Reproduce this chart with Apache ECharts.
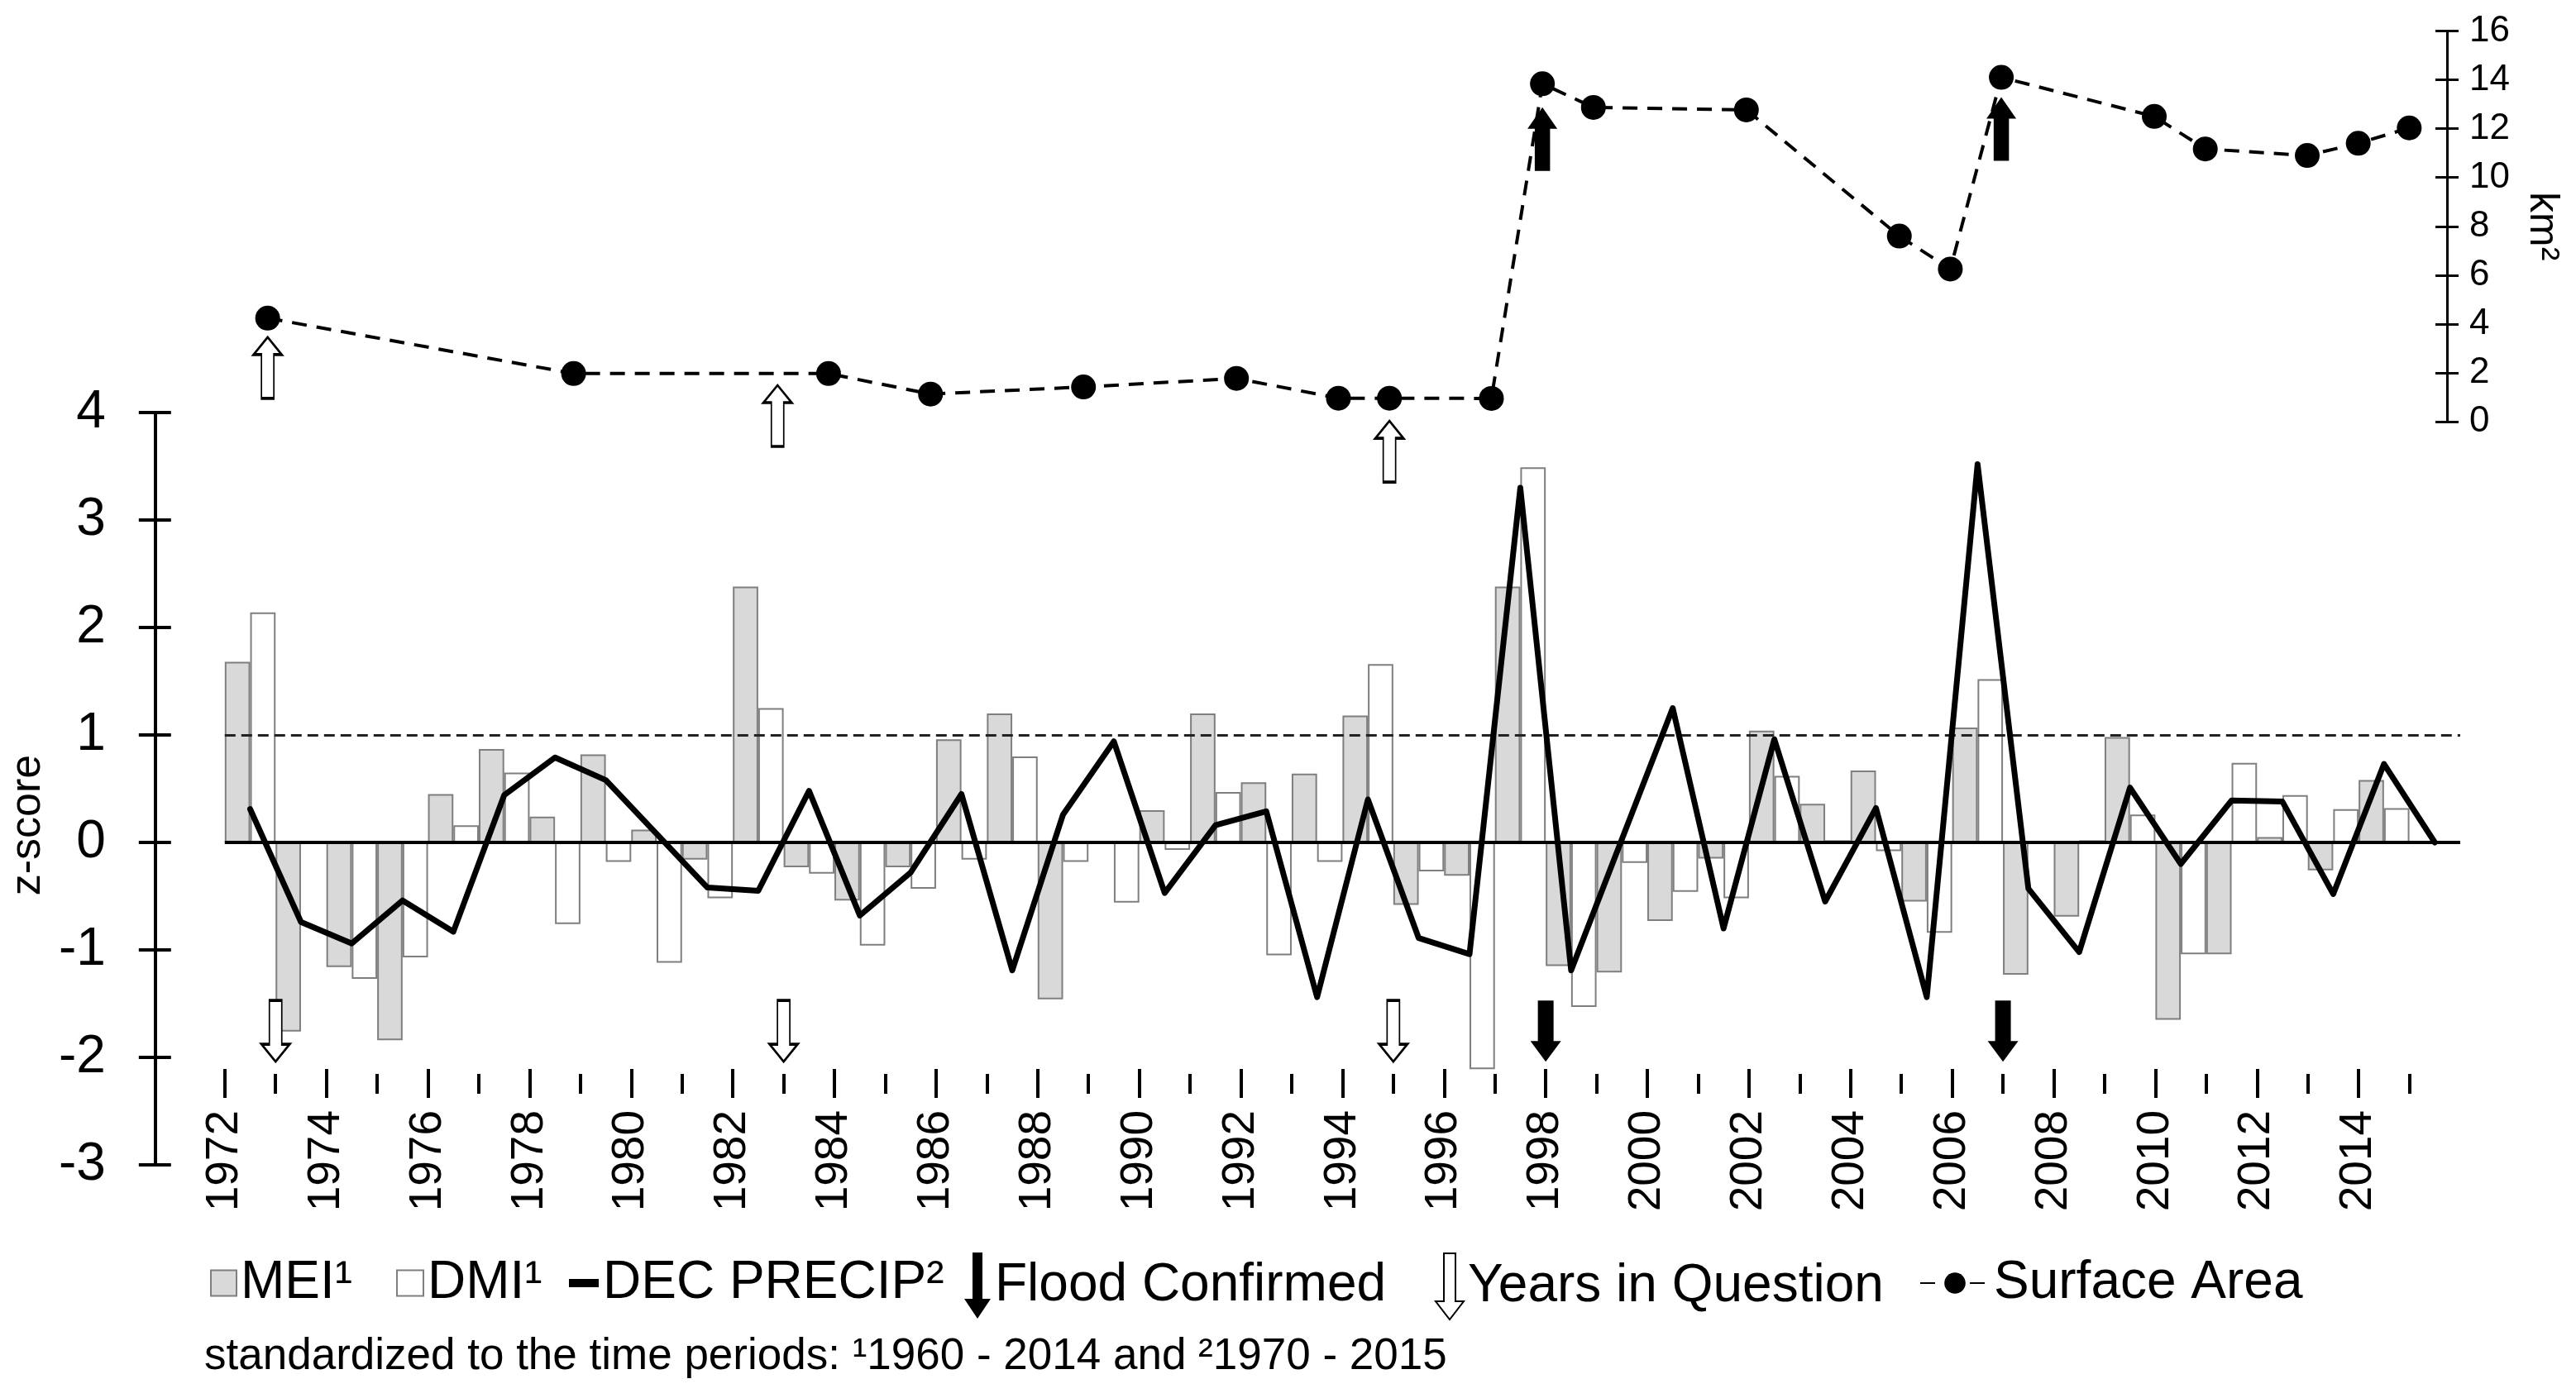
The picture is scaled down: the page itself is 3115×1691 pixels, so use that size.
<!DOCTYPE html>
<html>
<head>
<meta charset="utf-8">
<script src="https://cdn.jsdelivr.net/npm/echarts@6/dist/echarts.min.js"></script>
<style>
html,body{margin:0;padding:0;background:#fff;}
#chart{width:3115px;height:1691px;}
</style>
</head>
<body>
<div id="chart"></div>
<script>
// ---------------- DATA ----------------
const years = [1972,1973,1974,1975,1976,1977,1978,1979,1980,1981,1982,1983,1984,1985,1986,1987,1988,1989,1990,1991,1992,1993,1994,1995,1996,1997,1998,1999,2000,2001,2002,2003,2004,2005,2006,2007,2008,2009,2010,2011,2012,2013,2014,2015];

const mei = [1.68,-1.76,-1.16,-1.84,0.45,0.87,0.24,0.82,0.12,-0.16,2.38,-0.23,-0.54,-0.23,0.96,1.20,-1.46,0.00,0.30,1.20,0.56,0.64,1.18,-0.58,-0.31,2.38,-1.15,-1.21,-0.73,-0.15,1.04,0.36,0.67,-0.55,1.07,-1.23,-0.69,0.98,-1.65,-1.04,0.05,-0.26,0.58,null];

const dmi = [2.14,0.00,-1.27,-1.07,0.16,0.65,-0.76,-0.18,-1.12,-0.52,1.25,-0.29,-0.96,-0.43,-0.16,0.80,-0.18,-0.56,-0.07,0.47,-1.05,-0.18,1.66,-0.27,-2.11,3.49,-1.53,-0.19,-0.46,-0.52,0.62,0.02,-0.08,-0.84,1.52,0.00,0.02,0.26,-1.04,0.74,0.44,0.31,0.32,null];

const decPrecip = [0.31,-0.74,-0.94,-0.54,-0.83,0.44,0.79,0.58,0.08,-0.42,-0.45,0.48,-0.68,-0.28,0.45,-1.19,0.26,0.94,-0.47,0.16,0.29,-1.44,0.40,-0.89,-1.04,3.30,-1.19,0.03,1.25,-0.80,0.96,-0.55,0.32,-1.44,3.52,-0.43,-1.02,0.51,-0.20,0.39,0.38,-0.48,0.73,0.00];

const surfaceYears = [1973,1979,1984,1986,1989,1992,1994,1995,1997,1998,1999,2002,2005,2006,2007,2010,2011,2013,2014,2015];
const surfaceArea  = [4.24,1.97,1.97,1.13,1.42,1.77,0.96,0.96,0.95,13.84,12.87,12.77,7.6,6.25,14.1,12.5,11.17,10.9,11.4,12.03];

const floodYears = [1998, 2007];
const floodArrowTipKm = [12.88, 13.29];
const questionYears = [1973, 1983, 1995];
const questionArrowTipKm = [3.46, 1.49, 0.03];
const lowerArrowTipZ = -2.04;
const thresholdZ = 1;

const labelYears = years.filter(y => y % 2 === 0);
const minorYears = years.filter(y => y % 2 === 1);
const X_MIN = years[0];
const X_MAX = years[years.length - 1] + 1;

const footnote = 'standardized to the time periods: \u00b91960 - 2014 and \u00b21970 - 2015';

// ---------------- STYLE ----------------
const FONT = '"Liberation Sans", Arial, Helvetica, sans-serif';
const FILLED_DOWN = 'path://M9,0L28,0L28,49L37,49L18.5,74L0,49L9,49Z';
const FILLED_UP = 'path://M18.5,0L37,25L28,25L28,74L9,74L9,25L0,25Z';
const HOLLOW_DOWN = 'path://M9.5,0L24.5,0L24.5,53L34,53L17,74L0,53L9.5,53Z';
const HOLLOW_UP = 'path://M17,0L34,21L24.5,21L24.5,74L9.5,74L9.5,21L0,21Z';
const LEGEND_FLOOD = 'path://M10,0L22,0L22,56L32,56L16,80L0,56L10,56Z';
const LEGEND_QUESTION = 'path://M10,0L24,0L24,58L34,58L17,80L0,58L10,58Z';

const blackLine = {color:'#000', width:4};

const legendCommon = {
  padding: 0, itemGap: 0, selectedMode: false,
  textStyle: {fontSize: 64, color: '#000', fontFamily: FONT}
};

const chart = echarts.init(document.getElementById('chart'), null, {renderer: 'canvas'});

const option = {
  backgroundColor: '#fff',
  animation: false,
  textStyle: {fontFamily: FONT},
  title: {
    text: footnote, left: 247, top: 1615, padding: 0,
    textStyle: {fontSize: 53, fontWeight: 'normal', color: '#000', fontFamily: FONT}
  },
  legend: [
    Object.assign({data: [{name: 'MEI\u00b9', icon: 'rect'}], left: 254, top: 1520, itemWidth: 31, itemHeight: 31}, legendCommon),
    Object.assign({data: [{name: 'DMI\u00b9', icon: 'rect'}], left: 479, top: 1520, itemWidth: 32, itemHeight: 31}, legendCommon),
    Object.assign({data: [{name: 'DEC PRECIP\u00b2', icon: 'rect'}], left: 688, top: 1520, itemWidth: 36, itemHeight: 10}, legendCommon),
    Object.assign({data: [{name: 'Flood Confirmed', icon: LEGEND_FLOOD}], left: 1166, top: 1515, itemWidth: 32, itemHeight: 80}, legendCommon),
    Object.assign({data: [{name: 'Years in Question', icon: LEGEND_QUESTION}], left: 1735, top: 1515, itemWidth: 34, itemHeight: 80}, legendCommon),
    Object.assign({data: [{name: 'Surface Area'}], left: 2321, top: 1520, itemWidth: 84, itemHeight: 32}, legendCommon)
  ],
  grid: [
    {left: 262, right: 140, top: 499, height: 910},
    {left: 262, right: 140, top: 37.5, height: 472.5}
  ],
  xAxis: [
    {type: 'category', gridIndex: 0, data: years, show: false, boundaryGap: true},
    {type: 'value', gridIndex: 0, min: X_MIN, max: X_MAX, show: false},
    {type: 'value', gridIndex: 0, min: X_MIN, max: X_MAX, position: 'bottom', offset: -116,
      splitLine: {show: false}, axisLine: {show: false},
      axisTick: {show: true, length: 35, customValues: labelYears, lineStyle: blackLine},
      axisLabel: {show: true, customValues: labelYears, rotate: 90, margin: 50, fontSize: 55, color: '#000', fontFamily: FONT,
        formatter: v => String(v)}
    },
    {type: 'value', gridIndex: 0, min: X_MIN, max: X_MAX, position: 'bottom', offset: -110,
      splitLine: {show: false}, axisLine: {show: false},
      axisTick: {show: true, length: 24, customValues: minorYears, lineStyle: blackLine},
      axisLabel: {show: false}
    },
    {type: 'value', gridIndex: 1, min: X_MIN, max: X_MAX, show: false}
  ],
  yAxis: [
    {type: 'value', gridIndex: 0, min: -3, max: 4, interval: 1, position: 'left', offset: 84,
      axisLine: {show: true, lineStyle: blackLine},
      axisTick: {show: true, length: 20, lineStyle: blackLine},
      axisLabel: {fontSize: 64, color: '#000', margin: 60, fontFamily: FONT},
      splitLine: {show: false},
      name: 'z-score', nameLocation: 'middle', nameGap: 115, nameRotate: 90,
      nameTextStyle: {fontSize: 52, color: '#000', fontFamily: FONT, padding: [0, 88, 0, 0]}
    },
    {type: 'value', gridIndex: 0, min: -3, max: 4, interval: 1, position: 'left', offset: 84,
      axisLine: {show: false},
      axisTick: {show: true, inside: true, length: 19, lineStyle: blackLine},
      axisLabel: {show: false}, splitLine: {show: false}
    },
    {type: 'value', gridIndex: 1, min: 0, max: 16, interval: 2, position: 'right', offset: -16,
      axisLine: {show: true, lineStyle: {color: '#000', width: 3}},
      axisTick: {show: true, length: 14, lineStyle: {color: '#000', width: 3}},
      axisLabel: {fontSize: 44, color: '#000', margin: 27, fontFamily: FONT},
      splitLine: {show: false},
      name: 'km\u00b2', nameLocation: 'middle', nameGap: 90, nameRotate: -90,
      nameTextStyle: {fontSize: 50, color: '#000', fontFamily: FONT}
    },
    {type: 'value', gridIndex: 1, min: 0, max: 16, interval: 2, position: 'right', offset: -16,
      axisLine: {show: false},
      axisTick: {show: true, inside: true, length: 14, lineStyle: {color: '#000', width: 3}},
      axisLabel: {show: false}, splitLine: {show: false}
    }
  ],
  series: [
    {name: 'MEI\u00b9', type: 'bar', xAxisIndex: 0, yAxisIndex: 0, data: mei,
      barGap: '0%', barCategoryGap: '0%', silent: true, z: 2,
      itemStyle: {color: '#d9d9d9', borderColor: '#7f7f7f', borderWidth: 2}},
    {name: 'DMI\u00b9', type: 'bar', xAxisIndex: 0, yAxisIndex: 0, data: dmi,
      barGap: '0%', barCategoryGap: '0%', silent: true, z: 2,
      itemStyle: {color: '#ffffff', borderColor: '#7f7f7f', borderWidth: 2},
      markLine: {silent: true, symbol: 'none', label: {show: false}, z: 5,
        data: [
          {yAxis: 0, lineStyle: {color: '#000', width: 4, type: 'solid'}},
          {yAxis: thresholdZ, lineStyle: {color: '#222', width: 3, type: [13, 7]}}
        ]}},
    {name: 'DEC PRECIP\u00b2', type: 'line', xAxisIndex: 0, yAxisIndex: 0, data: decPrecip,
      symbol: 'none', silent: true, z: 6, color: '#000',
      itemStyle: {color: '#000'},
      lineStyle: {color: '#000', width: 7, join: 'round', cap: 'round'}},
    {name: 'Flood Confirmed', type: 'scatter', xAxisIndex: 1, yAxisIndex: 0,
      data: floodYears.map(y => [y, lowerArrowTipZ]),
      symbol: FILLED_DOWN, symbolSize: [37, 74], symbolOffset: [0, -37], clip: false, silent: true, z: 7,
      itemStyle: {color: '#000', opacity: 1}},
    {name: 'Years in Question', type: 'scatter', xAxisIndex: 1, yAxisIndex: 0,
      data: questionYears.map(y => [y, lowerArrowTipZ]),
      symbol: HOLLOW_DOWN, symbolSize: [34, 74], symbolOffset: [0, -37], clip: false, silent: true, z: 7,
      itemStyle: {color: '#fff', borderColor: '#000', borderWidth: 2.5, opacity: 1}},
    {name: 'Surface Area', type: 'line', xAxisIndex: 4, yAxisIndex: 2,
      data: surfaceYears.map((y, i) => [y, surfaceArea[i]]),
      symbol: 'circle', symbolSize: 30, showSymbol: true, silent: true, z: 6, color: '#000',
      itemStyle: {color: '#000'},
      lineStyle: {color: '#000', width: 4, type: [18, 12]}},
    {name: 'Flood Confirmed', type: 'scatter', xAxisIndex: 4, yAxisIndex: 2,
      data: floodYears.map((y, i) => [y, floodArrowTipKm[i]]),
      symbol: FILLED_UP, symbolSize: [36, 77], symbolOffset: [0, 38.5], clip: false, silent: true, z: 7,
      itemStyle: {color: '#000', opacity: 1}},
    {name: 'Years in Question', type: 'scatter', xAxisIndex: 4, yAxisIndex: 2,
      data: questionYears.map((y, i) => [y, questionArrowTipKm[i]]),
      symbol: HOLLOW_UP, symbolSize: [34, 74], symbolOffset: [0, 37], clip: false, silent: true, z: 7,
      itemStyle: {color: '#fff', borderColor: '#000', borderWidth: 2.5, opacity: 1}}
  ]
};

chart.setOption(option);
</script>
</body>
</html>
